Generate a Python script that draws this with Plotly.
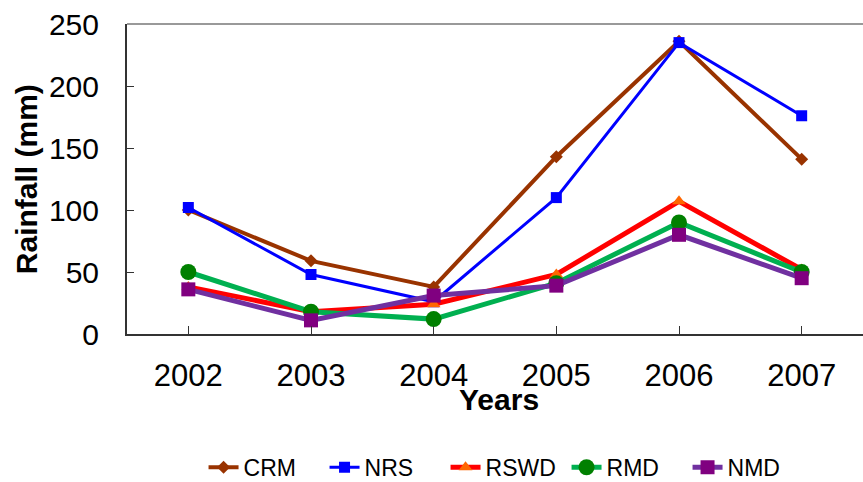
import plotly.graph_objects as go

years = ["2002", "2003", "2004", "2005", "2006", "2007"]

crm = [100, 59, 38, 143, 236, 141]
nrs = [102, 48, 26, 110, 235, 176]
rswd = [38, 18, 24, 48, 107, 52]
rmd = [50, 18, 12, 41, 90, 50]
nmd = [36, 11, 31, 39, 80, 45]

series = [
    ("CRM", crm, "#993300", "#993300", "diamond", 10, 4),
    ("NRS", nrs, "#0000FF", "#0000FF", "square", 11, 3),
    ("RSWD", rswd, "#FF0000", "#FF6600", "triangle-up", 12, 5),
    ("RMD", rmd, "#00B050", "#008000", "circle", 16, 5),
    ("NMD", nmd, "#7030A0", "#800080", "square", 14, 5),
]

fig = go.Figure()
for name, vals, lc, mc, sym, ms, lw in series:
    fig.add_trace(go.Scatter(
        x=years, y=vals, name=name, mode="lines+markers",
        line=dict(color=lc, width=lw),
        marker=dict(color=mc, symbol=sym, size=ms, line=dict(width=0)),
    ))

font = "Liberation Sans, Arial, sans-serif"

fig.update_layout(
    width=863, height=482,
    margin=dict(l=127, r=0, t=24, b=148, autoexpand=False),
    paper_bgcolor="white", plot_bgcolor="white",
    font=dict(family=font, color="black"),
    showlegend=True,
    legend=dict(
        orientation="h", x=0.104, xanchor="left", y=-0.43, yanchor="middle",
        font=dict(size=23, family=font), tracegroupgap=0,
        entrywidth=76, entrywidthmode="pixels",
    ),
    xaxis=dict(
        type="category", range=[-0.5, 5.5],
        showline=True, linecolor="#333333", linewidth=2,
        ticks="inside", ticklen=8, tickcolor="#333333",
        showgrid=False, zeroline=False,
        tickfont=dict(size=31), ticklabelstandoff=13,
    ),
    yaxis=dict(
        range=[0, 250], tickvals=[0, 50, 100, 150, 200, 250],
        showline=True, linecolor="#333333", linewidth=2,
        ticks="inside", ticklen=7, tickcolor="#333333",
        showgrid=False, zeroline=False,
        tickfont=dict(size=30), ticklabelstandoff=20,
    ),
    shapes=[dict(type="line", xref="paper", yref="paper", x0=0, x1=1, y0=1, y1=1,
                 line=dict(color="#999999", width=2))],
    annotations=[
        dict(text="<b>Rainfall (mm)</b>", xref="paper", yref="paper",
             x=-0.137, y=0.5, xanchor="center", yanchor="middle",
             textangle=-90, showarrow=False, font=dict(size=30)),
        dict(text="<b>Years</b>", xref="paper", yref="paper",
             x=0.505, y=-0.21, xanchor="center", yanchor="middle",
             showarrow=False, font=dict(size=30)),
    ],
)

fig.write_html("out.html")
